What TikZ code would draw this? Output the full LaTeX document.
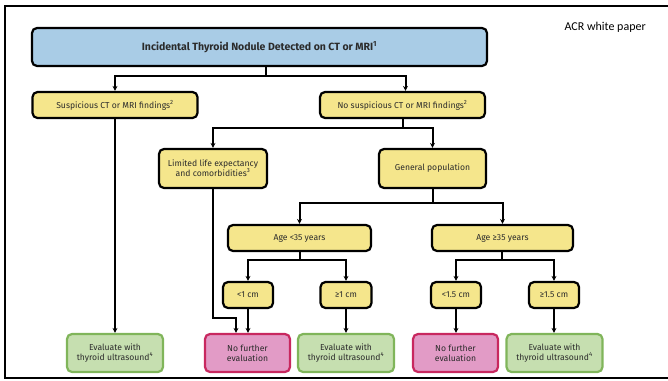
\documentclass[tikz,border=0pt]{standalone}
\usepackage{fontspec}
\setmainfont{Fira Sans}
\newfontfamily\notefont{Carlito}
\usetikzlibrary{arrows.meta}
\definecolor{boxblue}{HTML}{A9CCE6}
\definecolor{boxyellow}{HTML}{F5E68C}
\definecolor{boxgreen}{HTML}{C6DFB0}
\definecolor{linegreen}{HTML}{80B55A}
\definecolor{boxpink}{HTML}{E29BC6}
\definecolor{linepink}{HTML}{C8285F}
\definecolor{ink}{HTML}{2B2B2B}
\begin{document}
\begin{tikzpicture}[x=1pt,y=-1pt,
  box/.style={draw=black,line width=2.2pt,rounded corners=5pt,align=center,
    inner sep=1pt,text=ink,font=\fontsize{8.6}{10}\selectfont},
  yel/.style={box,fill=boxyellow},
  evalbox/.style={box,fill=boxgreen,draw=linegreen,minimum width=96pt,minimum height=38pt},
  stopbox/.style={box,fill=boxpink,draw=linepink,minimum width=85pt,minimum height=38pt},
  arr/.style={line width=2pt,-{Stealth[length=5pt,width=5pt]}},
  ln/.style={line width=2pt}]
\useasboundingbox (0,0) rectangle (668,380);
% frame
\draw[line width=2pt] (668,6) -- (5,6) -- (5,378) -- (668,378);
\node[font=\notefont\fontsize{12}{14}\selectfont,anchor=west] (note) at (561,27) {ACR white paper};
% boxes
\node[box,fill=boxblue,minimum width=455pt,minimum height=38pt,
  font=\bfseries\fontsize{10.5}{12}\selectfont] (top) at (259.5,47)
  {Incidental Thyroid Nodule Detected on CT or MRI\textsuperscript{1}};
\node[yel,minimum width=165pt,minimum height=26pt] (susp) at (115,105)
  {Suspicious CT or MRI findings\textsuperscript{2}};
\node[yel,minimum width=165pt,minimum height=26pt] (nosusp) at (402.5,105)
  {No suspicious CT or MRI findings\textsuperscript{2}};
\node[yel,minimum width=108pt,minimum height=39pt] (limited) at (213,168.5)
  {Limited life expectancy\\and comorbidities\textsuperscript{3}};
\node[yel,minimum width=107pt,minimum height=39pt] (general) at (432.5,168.5)
  {General population};
\node[yel,minimum width=143pt,minimum height=26pt] (young) at (299.5,238) {Age <35 years};
\node[yel,minimum width=141pt,minimum height=26pt] (old) at (502.5,238) {Age ≥35 years};
\node[yel,minimum width=50pt,minimum height=26pt] (smallA) at (248,295) {<1 cm};
\node[yel,minimum width=51pt,minimum height=26pt] (bigA) at (346,295) {≥1 cm};
\node[yel,minimum width=50pt,minimum height=26pt] (smallB) at (456,295) {<1.5 cm};
\node[yel,minimum width=50pt,minimum height=26pt] (bigB) at (554,295) {≥1.5 cm};
\node[evalbox] (evalA) at (115,353) {Evaluate with\\thyroid ultrasound\textsuperscript{4}};
\node[stopbox] (stopA) at (247.5,353) {No further\\evaluation};
\node[evalbox] (evalB) at (346,353) {Evaluate with\\thyroid ultrasound\textsuperscript{4}};
\node[stopbox] (stopB) at (455.5,353) {No further\\evaluation};
\node[evalbox] (evalC) at (554.5,353) {Evaluate with\\thyroid ultrasound\textsuperscript{4}};
% connectors
\coordinate (j1) at (266,76);
\draw[ln] (top.south -| j1) -- (j1);
\draw[arr] (j1) -| (susp.north);
\draw[arr] (j1) -| ([xshift=3pt]nosusp.north);
\draw[arr] (susp.south) -- (susp.south |- evalA.north);
\coordinate (j2) at (403,128);
\draw[ln] (nosusp.south -| j2) -- (j2);
\draw[arr] (j2) -| (limited.north);
\draw[arr] (j2) -| (general.north);
\coordinate (k1) at (236,318);
\draw[arr] (limited.south) |- (k1) -- (k1 |- stopA.north);
\coordinate (j3) at (433,203);
\draw[ln] (general.south -| j3) -- (j3);
\draw[arr] (j3) -| (young.north);
\draw[arr] (j3) -| (old.north);
\coordinate (j4) at (300,260);
\draw[ln] (young.south -| j4) -- (j4);
\draw[arr] (j4) -| (smallA.north);
\draw[arr] (j4) -| (bigA.north);
\coordinate (j5) at (502,260);
\draw[ln] (old.south -| j5) -- (j5);
\draw[arr] (j5) -| (smallB.north);
\draw[arr] (j5) -| (bigB.north);
\draw[arr] (smallA.south) -- (smallA.south |- stopA.north);
\draw[arr] (bigA.south) -- (bigA.south |- evalB.north);
\draw[arr] (smallB.south) -- (smallB.south |- stopB.north);
\draw[arr] (bigB.south) -- (bigB.south |- evalC.north);
\end{tikzpicture}
\end{document}
